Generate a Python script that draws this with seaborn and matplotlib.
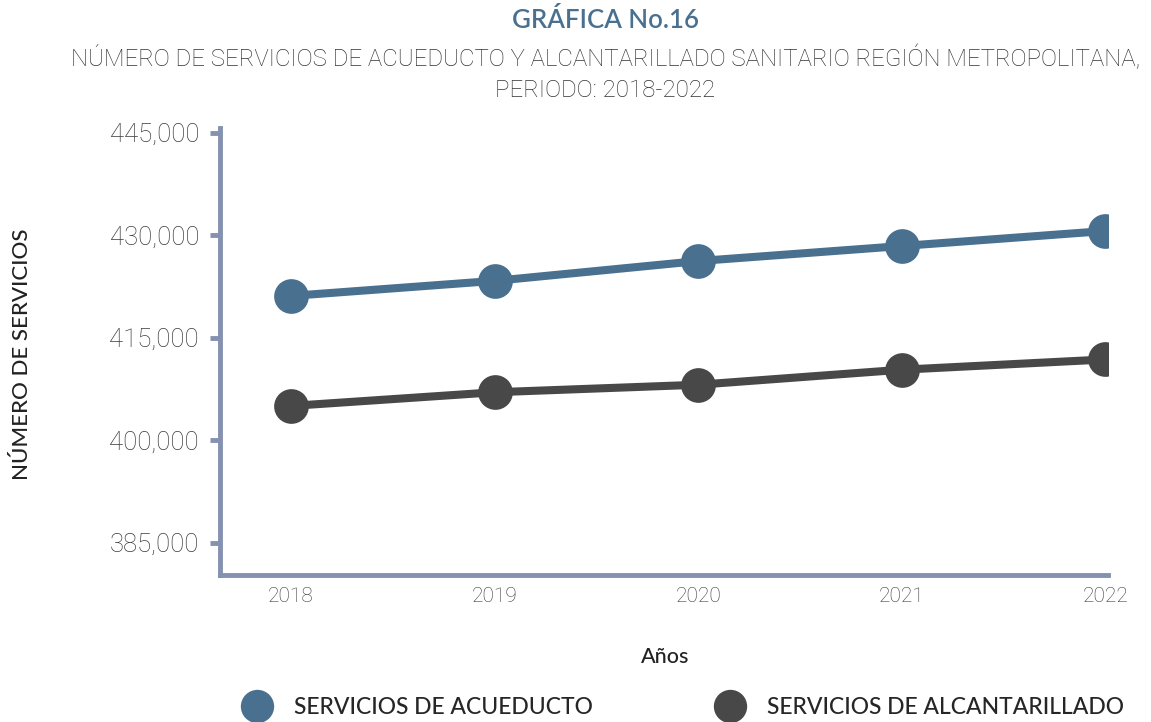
import pandas as pd
import matplotlib.pyplot as plt
import seaborn as sns
from matplotlib.lines import Line2D
from matplotlib.ticker import FuncFormatter

# Datos
anios = ['2018', '2019', '2020', '2021', '2022']
acueducto = [421100, 423300, 426200, 428400, 430600]
alcantarillado = [405000, 407000, 408100, 410300, 411800]
series = ['SERVICIOS DE ACUEDUCTO', 'SERVICIOS DE ALCANTARILLADO']
colores = ['#4a7090', '#484848']

df = pd.DataFrame({
    'anio': anios * 2,
    'pos': list(range(len(anios))) * 2,
    'valor': acueducto + alcantarillado,
    'serie': [series[0]] * len(anios) + [series[1]] * len(anios),
})

sns.set_theme(style="white")
plt.rcParams['font.family'] = ['Lato', 'DejaVu Sans']
ligera = ['Roboto', 'DejaVu Sans']

fig = plt.figure(figsize=(11.51, 7.22), dpi=100)
ax = fig.add_axes([0.191, 0.204, 0.772, 0.619])

sns.lineplot(data=df, x='pos', y='valor', hue='serie', palette=colores,
             marker='o', markersize=25, markeredgewidth=0, linewidth=5.8,
             legend=False, ax=ax)

ax.set_xlim(-0.35, 4.015)
ax.set_ylim(380300, 445700)
ax.set_yticks([385000, 400000, 415000, 430000, 445000])
ax.yaxis.set_major_formatter(FuncFormatter(lambda v, p: f'{int(v):,}'))
ax.set_xticks(range(len(anios)))
ax.set_xticklabels(anios)

eje = '#8591b0'
for s in ['top', 'right']:
    ax.spines[s].set_visible(False)
for s in ['left', 'bottom']:
    ax.spines[s].set_color(eje)
    ax.spines[s].set_linewidth(3.5)
ax.tick_params(axis='y', left=True, length=7, width=3.5, color=eje, direction='out',
               labelsize=18.5, labelcolor='#3a3a3a', pad=8)
ax.tick_params(axis='x', bottom=False, length=0, labelsize=15, labelcolor='#3a3a3a', pad=9)
for t in ax.get_xticklabels() + ax.get_yticklabels():
    t.set_fontfamily(ligera)
    t.set_fontweight('light')

ax.set_xlabel('')
ax.set_ylabel('')
fig.text(0.578, 0.09, 'Años', ha='center', va='center', fontsize=15.5,
         color='#222222', fontweight='medium')
fig.text(0.019, 0.51, 'NÚMERO DE SERVICIOS', rotation=90, ha='center',
         va='center', fontsize=16, color='#222222', fontweight='medium')

fig.text(0.526, 0.971, 'GRÁFICA No.16', ha='center', va='center', fontsize=18.5,
         color='#4a7090', fontweight='semibold')
fig.text(0.526, 0.919, 'NÚMERO DE SERVICIOS DE ACUEDUCTO Y ALCANTARILLADO SANITARIO REGIÓN METROPOLITANA,',
         ha='center', va='center', fontsize=17.3, color='#333333', fontweight='light',
         family=ligera)
fig.text(0.526, 0.874, 'PERIODO: 2018-2022', ha='center', va='center',
         fontsize=17.3, color='#333333', fontweight='light', family=ligera)

handles = [Line2D([], [], linestyle='none', marker='o', markersize=24,
                  markerfacecolor=c, markeredgewidth=0) for c in colores]
fig.legend(handles, series, loc='center', bbox_to_anchor=(0.59, 0.02),
           ncol=2, frameon=False, columnspacing=5,
           handletextpad=0.6, prop={'size': 16.5, 'weight': 'medium'})

fig.savefig('out.png', dpi=100)
